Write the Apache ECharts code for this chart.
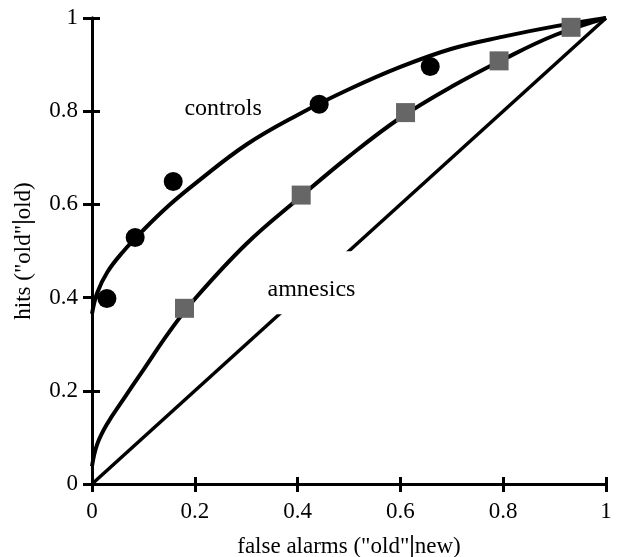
<!DOCTYPE html>
<html>
<head>
<meta charset="utf-8">
<script src="https://cdn.jsdelivr.net/npm/echarts@6/dist/echarts.min.js"></script>
<style>
html,body{margin:0;padding:0;background:#fff;}
#c{width:619px;height:557px;}
</style>
</head>
<body>
<div id="c"></div>
<script>
// ---- data ----
var tickLabels = ['0', '0.2', '0.4', '0.6', '0.8', '1'];

var controlsPtsX = [0.029, 0.084, 0.158, 0.442, 0.658];
var controlsPtsY = [0.398, 0.529, 0.649, 0.815, 0.896];

var amnesicsPtsX = [0.180, 0.407, 0.610, 0.792, 0.932];
var amnesicsPtsY = [0.377, 0.620, 0.797, 0.908, 0.980];

// fitted curves
var curveX = [0, 0.01, 0.03, 0.06, 0.1, 0.15, 0.2, 0.3, 0.4, 0.5, 0.6, 0.7, 0.8, 0.9, 1];
var controlsCurveY = [0.365, 0.41, 0.455, 0.498, 0.545, 0.598, 0.644, 0.728, 0.792, 0.847, 0.895, 0.934, 0.96, 0.982, 1];
var amnesicsCurveY = [0.038, 0.085, 0.13, 0.18, 0.245, 0.326, 0.397, 0.515, 0.611, 0.703, 0.786, 0.853, 0.911, 0.963, 1];

var chanceX = [0, 1];
var chanceY = [0, 1];

var annotations = [
  { text: 'controls', x: 0.255, y: 0.806 },
  { text: 'amnesics', x: 0.427, y: 0.416 }
];
// white patch behind the "amnesics" label that interrupts the chance line
var maskCenter = [0.427, 0.432];

function zip(xs, ys) { return xs.map(function (x, i) { return [x, ys[i]]; }); }

var FONT = 'Liberation Serif';
var AX = '#000';

var chart = echarts.init(document.getElementById('c'), null, { renderer: 'canvas' });

function tickFmt(v) { return tickLabels[Math.round(v / 0.2)]; }

var richBar = {
  n: { fontFamily: FONT, fontSize: 23, color: '#000' },
  b: { fontFamily: FONT, fontSize: 25, fontWeight: 'bold', color: '#000' }
};

var option = {
  backgroundColor: '#fff',
  animation: false,
  grid: [
    { left: 92, right: 13, top: 18, bottom: 73, containLabel: false, outerBoundsMode: 'none' },
    { left: 92, right: 13, top: 18, bottom: 73, containLabel: false, outerBoundsMode: 'none' }
  ],
  xAxis: [
    {
      gridIndex: 0, type: 'value', min: 0, max: 1, interval: 0.2, position: 'bottom',
      axisLine: { show: true, lineStyle: { color: AX, width: 3 } },
      axisTick: { show: true, length: 8, lineStyle: { color: AX, width: 3 } },
      axisLabel: { show: true, margin: 16, formatter: tickFmt, fontFamily: FONT, fontSize: 23, color: '#000' },
      splitLine: { show: false },
      name: '{n|false alarms ("old"}{b||}{n|new)}',
      nameLocation: 'middle', nameGap: 50,
      nameTextStyle: { fontFamily: FONT, fontSize: 23, color: '#000', rich: richBar }
    },
    {
      gridIndex: 0, type: 'value', min: 0, max: 1, position: 'top',
      axisLine: { show: true, lineStyle: { color: AX, width: 3 } },
      axisTick: { show: false }, axisLabel: { show: false }, splitLine: { show: false }
    },
    {
      gridIndex: 1, type: 'value', min: 0, max: 1, interval: 0.2, position: 'bottom',
      axisLine: { show: false },
      axisTick: { show: true, inside: true, length: 7, lineStyle: { color: AX, width: 3 } },
      axisLabel: { show: false }, splitLine: { show: false }
    }
  ],
  yAxis: [
    {
      gridIndex: 0, type: 'value', min: 0, max: 1, interval: 0.2, position: 'left',
      axisLine: { show: true, lineStyle: { color: AX, width: 3 } },
      axisTick: { show: true, length: 9, lineStyle: { color: AX, width: 3 } },
      axisLabel: { show: true, margin: 14, formatter: tickFmt, fontFamily: FONT, fontSize: 23, color: '#000' },
      splitLine: { show: false },
      name: '{n|hits ("old"}{b||}{n|old)}',
      nameLocation: 'middle', nameGap: 56, nameRotate: 90,
      nameTextStyle: { fontFamily: FONT, fontSize: 23, color: '#000', rich: richBar }
    },
    {
      gridIndex: 0, type: 'value', min: 0, max: 1, position: 'right',
      axisLine: { show: true, lineStyle: { color: AX, width: 3 } },
      axisTick: { show: false }, axisLabel: { show: false }, splitLine: { show: false }
    },
    {
      gridIndex: 1, type: 'value', min: 0, max: 1, interval: 0.2, position: 'left',
      axisLine: { show: false },
      axisTick: { show: true, inside: true, length: 8, lineStyle: { color: AX, width: 3 } },
      axisLabel: { show: false }, splitLine: { show: false }
    }
  ],
  series: [
    {
      type: 'line', xAxisIndex: 0, yAxisIndex: 0, data: zip(chanceX, chanceY),
      symbol: 'none', lineStyle: { color: '#000', width: 3.5 }, z: 2
    },
    {
      type: 'line', xAxisIndex: 0, yAxisIndex: 0, data: zip(curveX, controlsCurveY),
      symbol: 'none', smooth: 0.4, lineStyle: { color: '#000', width: 4 }, z: 3
    },
    {
      type: 'line', xAxisIndex: 0, yAxisIndex: 0, data: zip(curveX, amnesicsCurveY),
      symbol: 'none', smooth: 0.4, lineStyle: { color: '#000', width: 4 }, z: 3
    },
    {
      type: 'scatter', xAxisIndex: 0, yAxisIndex: 0, data: zip(controlsPtsX, controlsPtsY),
      symbol: 'circle', symbolSize: 19, itemStyle: { color: '#000', opacity: 1 }, z: 5
    },
    {
      type: 'scatter', xAxisIndex: 0, yAxisIndex: 0, data: zip(amnesicsPtsX, amnesicsPtsY),
      symbol: 'rect', symbolSize: 19, itemStyle: { color: '#666666', opacity: 1 }, z: 5
    },
    {
      // white mask
      type: 'scatter', xAxisIndex: 0, yAxisIndex: 0, z: 4,
      symbol: 'rect', symbolSize: [92, 63], itemStyle: { color: '#ffffff', opacity: 1 },
      data: [maskCenter]
    },
    {
      type: 'scatter', xAxisIndex: 0, yAxisIndex: 0, z: 6,
      symbolSize: 1, itemStyle: { color: 'rgba(0,0,0,0)', opacity: 1 },
      data: annotations.map(function (a) {
        return {
          value: [a.x, a.y],
          label: {
            show: true, position: 'inside', formatter: a.text,
            fontFamily: FONT, fontSize: 24, color: '#000'
          }
        };
      })
    }
  ]
};
chart.setOption(option);
</script>
</body>
</html>
